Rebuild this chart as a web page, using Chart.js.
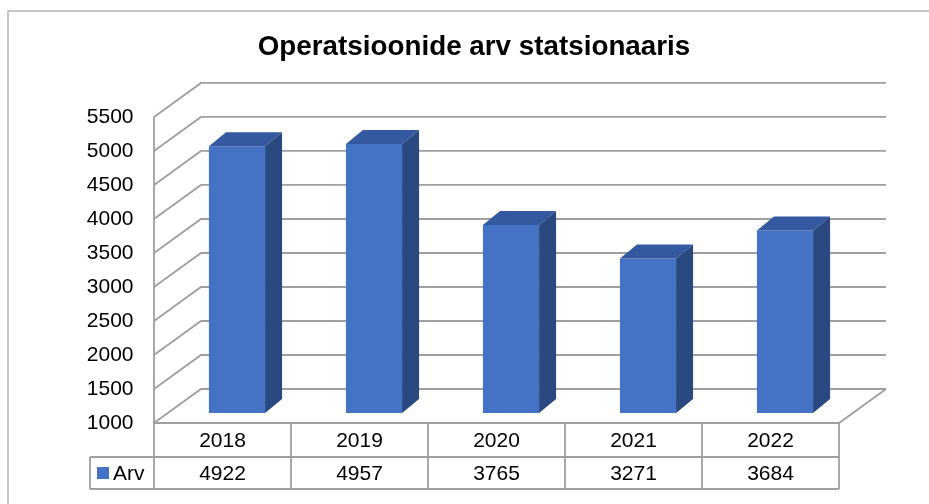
<!DOCTYPE html>
<html lang="et">
<head>
    <meta charset="UTF-8">
    <title>Operatsioonide arv statsionaaris</title>
    <script src="https://cdn.jsdelivr.net/npm/chart.js"></script>
    <style>
        body {
            margin: 0;
            background-color: #ffffff;
        }
        #wrap {
            width: 929px;
            height: 504px;
        }
    </style>
</head>
<body>

<div id="wrap">
    <canvas id="arvChart" width="929" height="504"></canvas>
</div>

<script>
    // andmed
    const years = ['2018', '2019', '2020', '2021', '2022'];
    const arv = [4922, 4957, 3765, 3271, 3684];
    const seriesName = 'Arv';
    const yMin = 1000;
    const yMax = 5500;
    const yStep = 500;

    // 3D nihked (bar plane -> esisein / tagasein / tulba sügavus)
    const FRONT = [-14.5, 10];
    const BACK = [32.5, -24];
    const BAR_DEPTH = [17, -14];
    const GRID = '#9f9f9f';
    const FONT = "'Liberation Sans', Arial, sans-serif";

    const box3d = {
        id: 'box3d',
        beforeDatasetsDraw(chart) {
            const { ctx, chartArea: a, scales: { y } } = chart;
            const [fx, fy] = FRONT;
            const [bx, by] = BACK;
            ctx.save();
            ctx.strokeStyle = GRID;
            ctx.lineWidth = 1.8;
            ctx.beginPath();
            y.ticks.forEach(t => {
                const py = y.getPixelForValue(t.value);
                ctx.moveTo(a.left + fx, py + fy);
                ctx.lineTo(a.left + bx, py + by);
                ctx.lineTo(a.right + bx, py + by);
            });
            // vasaku seina esiserv
            ctx.moveTo(a.left + fx, a.bottom + fy);
            ctx.lineTo(a.left + fx, a.top + fy);
            // põrand
            ctx.moveTo(a.left + fx, a.bottom + fy);
            ctx.lineTo(a.right + fx, a.bottom + fy);
            ctx.lineTo(a.right + bx, a.bottom + by);
            ctx.stroke();
            ctx.restore();
        },
        afterDatasetsDraw(chart) {
            const { ctx } = chart;
            const [dx, dy] = BAR_DEPTH;
            ctx.save();
            chart.getDatasetMeta(0).data.forEach(bar => {
                const { x, y, base, width } = bar.getProps(['x', 'y', 'base', 'width'], true);
                const l = x - width / 2, r = x + width / 2;
                // ülemine tahk
                ctx.fillStyle = '#3559a0';
                ctx.beginPath();
                ctx.moveTo(l, y);
                ctx.lineTo(r, y);
                ctx.lineTo(r + dx, y + dy);
                ctx.lineTo(l + dx, y + dy);
                ctx.closePath();
                ctx.fill();
                // külg
                ctx.fillStyle = '#2a4981';
                ctx.beginPath();
                ctx.moveTo(r, y);
                ctx.lineTo(r + dx, y + dy);
                ctx.lineTo(r + dx, base + dy);
                ctx.lineTo(r, base);
                ctx.closePath();
                ctx.fill();
            });
            ctx.restore();
        },
        afterDraw(chart) {
            const { ctx, chartArea: a } = chart;
            const [fx, fy] = FRONT;
            const n = years.length;
            const cw = (a.right - a.left) / n;
            const x0 = a.left + fx;
            const x1 = a.right + fx;
            const r0 = a.bottom + fy, r1 = r0 + 34, r2 = r1 + 32;
            const legX = 90;

            ctx.save();
            // välimine raam
            ctx.strokeStyle = '#b5b5b5';
            ctx.lineWidth = 1.5;
            ctx.beginPath();
            ctx.moveTo(8, 504);
            ctx.lineTo(8, 11);
            ctx.lineTo(929, 11);
            ctx.stroke();

            // tabel
            ctx.strokeStyle = GRID;
            ctx.lineWidth = 1.8;
            ctx.beginPath();
            ctx.moveTo(legX, r1); ctx.lineTo(x1, r1);
            ctx.moveTo(legX, r2); ctx.lineTo(x1, r2);
            ctx.moveTo(legX, r1); ctx.lineTo(legX, r2);
            for (let i = 0; i <= n; i++) {
                ctx.moveTo(x0 + i * cw, r0);
                ctx.lineTo(x0 + i * cw, r2);
            }
            ctx.stroke();

            ctx.fillStyle = '#000';
            ctx.font = '21px ' + FONT;
            ctx.textAlign = 'center';
            ctx.textBaseline = 'middle';
            years.forEach((yr, i) => {
                const cx = x0 + (i + 0.5) * cw;
                ctx.fillText(yr, cx, (r0 + r1) / 2 + 1);
                ctx.fillText(String(arv[i]), cx, (r1 + r2) / 2 + 1);
            });

            // legend
            ctx.fillStyle = '#4472c4';
            ctx.fillRect(97, (r1 + r2) / 2 - 6, 12, 12);
            ctx.fillStyle = '#000';
            ctx.textAlign = 'left';
            ctx.fillText(seriesName, 113, (r1 + r2) / 2 + 1);
            ctx.restore();
        }
    };

    const ctxArv = document.getElementById('arvChart').getContext('2d');
    const arvChart = new Chart(ctxArv, {
        type: 'bar',
        data: {
            labels: years,
            datasets: [{
                label: seriesName,
                data: arv,
                base: yMin,
                backgroundColor: '#4472c4',
                borderWidth: 0,
                barPercentage: 0.41,
                categoryPercentage: 1
            }]
        },
        options: {
            responsive: false,
            animation: false,
            devicePixelRatio: 1,
            layout: {
                padding: { left: 19, right: 0, top: 19, bottom: 91 }
            },
            plugins: {
                legend: { display: false },
                tooltip: { enabled: false },
                title: {
                    display: true,
                    text: 'Operatsioonide arv statsionaaris',
                    color: '#000',
                    font: { family: FONT, size: 27.8, weight: 'bold' },
                    padding: { top: 12, bottom: 42.6 }
                }
            },
            scales: {
                x: {
                    display: false,
                    offset: true
                },
                y: {
                    min: yMin,
                    max: yMax,
                    afterFit: s => { s.width = 149.5; },
                    grid: { display: false, drawTicks: false },
                    border: { display: false },
                    ticks: {
                        stepSize: yStep,
                        padding: 35,
                        labelOffset: 10,
                        color: '#000',
                        font: { family: FONT, size: 21 },
                        callback: v => String(v)
                    }
                },
                // tühi parem telg, et joonis jääks pealkirja suhtes paigale
                yRight: {
                    position: 'right',
                    afterFit: s => { s.width = 75.5; },
                    grid: { display: false, drawTicks: false },
                    border: { display: false },
                    ticks: { display: false }
                }
            }
        },
        plugins: [box3d]
    });
</script>

</body>
</html>
